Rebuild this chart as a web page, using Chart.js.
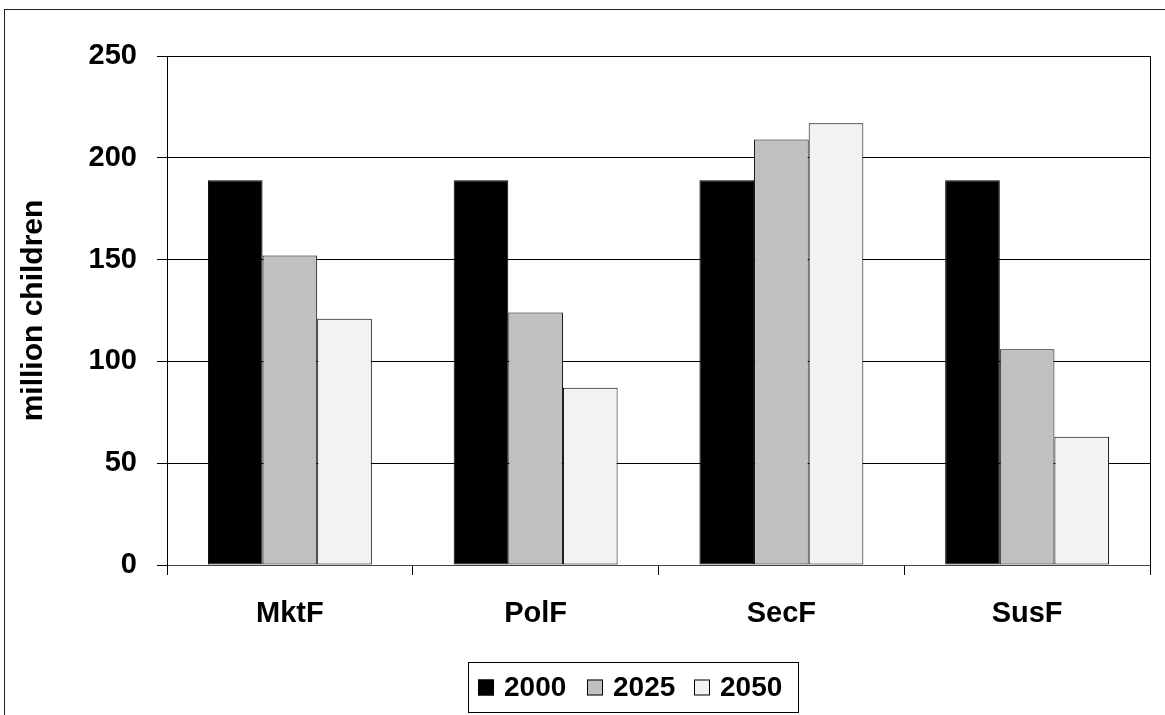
<!DOCTYPE html>
<html>
<head>
<meta charset="utf-8">
<script src="https://cdn.jsdelivr.net/npm/chart.js@4.4.1/dist/chart.umd.min.js"></script>
<style>
  html, body { margin: 0; padding: 0; background: #ffffff; }
  #wrap { width: 1165px; height: 715px; }
</style>
</head>
<body>
<div id="wrap"><canvas id="chart" width="1165" height="715"></canvas></div>
<script>
// Children (millions) by scenario and year
const categories = ['MktF', 'PolF', 'SecF', 'SusF'];
const seriesNames = ['2000', '2025', '2050'];
const values2000 = [189, 189, 189, 189];
const values2025 = [152, 124, 209, 106];
const values2050 = [121, 87, 217, 63];
const yTicks = [0, 50, 100, 150, 200, 250];

const FONT = "'Liberation Sans', Arial, sans-serif";
const fills = ['#000000', '#c0c0c0', '#f2f2f2'];

// Outer frame, right edge of the plot area, and the boxed legend
const decorations = {
  id: 'decorations',
  afterDraw(chart) {
    const ctx = chart.ctx;
    const area = chart.chartArea;
    ctx.save();
    // chart frame (runs off the right and bottom of the canvas)
    ctx.strokeStyle = '#222';
    ctx.lineWidth = 1;
    ctx.strokeRect(4.5, 9.5, 1300, 900);
    // plot area right edge
    ctx.strokeStyle = '#000';
    ctx.beginPath();
    ctx.moveTo(Math.round(area.right) + 0.5, area.top);
    ctx.lineTo(Math.round(area.right) + 0.5, area.bottom);
    ctx.stroke();

    // legend box
    const box = { x: 468.5, y: 662.5, w: 330, h: 50 };
    ctx.strokeStyle = '#000';
    ctx.fillStyle = '#fff';
    ctx.fillRect(box.x, box.y, box.w, box.h);
    ctx.strokeRect(box.x, box.y, box.w, box.h);
    ctx.font = 'bold 28px ' + FONT;
    ctx.textBaseline = 'middle';
    ctx.textAlign = 'left';
    const midY = 687.5;
    const startX = [478, 587, 694];
    chart.data.datasets.forEach((ds, i) => {
      const sx = startX[i];
      ctx.fillStyle = ds.backgroundColor;
      ctx.fillRect(sx, midY - 8, 16, 16);
      ctx.strokeStyle = '#000';
      ctx.strokeRect(sx + 0.5, midY - 7.5, 15, 15);
      ctx.fillStyle = '#000';
      ctx.fillText(ds.label, sx + 26, midY + 1);
    });
    ctx.restore();
  }
};

const datasets = [values2000, values2025, values2050].map((vals, i) => ({
  label: seriesNames[i],
  data: vals,
  backgroundColor: fills[i],
  borderColor: '#000000',
  borderWidth: 1,
  borderSkipped: false,
  categoryPercentage: 0.667,
  barPercentage: 1.0
}));

new Chart(document.getElementById('chart'), {
  type: 'bar',
  data: { labels: categories, datasets },
  options: {
    responsive: false,
    animation: false,
    layout: { padding: { left: 0, right: 15, top: 56, bottom: 0 } },
    plugins: {
      legend: { display: false },
      tooltip: { enabled: false }
    },
    scales: {
      x: {
        grid: {
          offset: true,
          drawOnChartArea: false,
          drawTicks: true,
          tickLength: 10,
          color: '#000'
        },
        border: { display: true, color: '#444', width: 1 },
        ticks: {
          color: '#000',
          font: { family: FONT, size: 29, weight: 'bold' },
          padding: 22
        },
        afterFit(scale) { scale.height = 150; }
      },
      y: {
        min: 0,
        max: 250,
        afterBuildTicks(scale) { scale.ticks = yTicks.map(v => ({ value: v })); },
        grid: {
          color: '#000',
          lineWidth: 1,
          drawTicks: true,
          tickLength: 10
        },
        border: { display: true, color: '#000', width: 1 },
        ticks: {
          color: '#000',
          font: { family: FONT, size: 29, weight: 'bold' },
          padding: 20
        },
        title: {
          display: true,
          text: 'million children',
          color: '#000',
          font: { family: FONT, size: 30, weight: 'bold' },
          padding: { top: 16, bottom: 0 }
        },
        afterFit(scale) { scale.width = 167; }
      }
    }
  },
  plugins: [decorations]
});
</script>
</body>
</html>
